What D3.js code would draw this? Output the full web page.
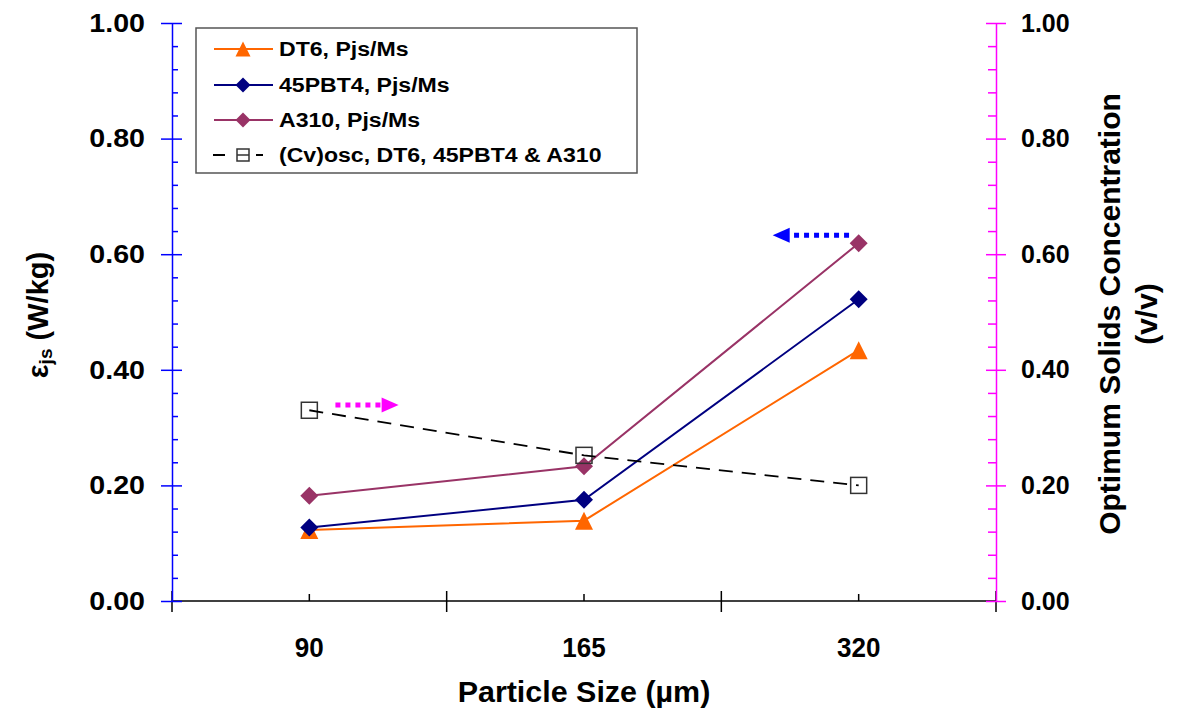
<!DOCTYPE html>
<html>
<head>
<meta charset="utf-8">
<script src="https://cdn.jsdelivr.net/npm/d3@7"></script>
<style>
  body { margin: 0; background: #fff; }
  svg { display: block; font-family: "Liberation Sans", Arial, sans-serif; }
</style>
</head>
<body>
<div id="main"></div>
<script>
// Chart values
const categories = ["90", "165", "320"];
const dt6 = [0.123, 0.139, 0.434];
const pbt4 = [0.127, 0.175, 0.522];
const a310 = [0.182, 0.233, 0.619];
const cvOsc = [0.330, 0.252, 0.200];
const yTicks = [0, 0.2, 0.4, 0.6, 0.8, 1.0];
const legendLabels = ["DT6, Pjs/Ms", "45PBT4, Pjs/Ms", "A310, Pjs/Ms", "(Cv)osc, DT6, 45PBT4 & A310"];
// arrows: which axis they refer to, at which value, start/end as offsets from a category (in band steps)
const arrows = [
  { cat: "90", value: 0.339, from: 0.095, to: 0.325, color: "#ff00ff" },
  { cat: "320", value: 0.633, from: -0.035, to: -0.313, color: "#0000ff" }
];

const svgWidth = 1184, svgHeight = 720;
const plotLeft = 172, plotRight = 996, plotTop = 23, plotBottom = 601;

const svg = d3.select("#main").append("svg")
  .attr("width", svgWidth)
  .attr("height", svgHeight);

const x = d3.scaleBand().domain(categories).range([plotLeft, plotRight]).padding(0);
const yL = d3.scaleLinear().domain([0, 1]).range([plotBottom, plotTop]);
const yR = d3.scaleLinear().domain([0, 1]).range([plotBottom, plotTop]);

const fmt = d3.format(".2f");
const minorTicks = d3.range(0, 1.0001, 0.04).filter(v => Math.abs(v / 0.2 - Math.round(v / 0.2)) > 1e-6);

// stretch text horizontally (the original picture is a bit wider than tall)
const widen = function (sel, k) {
  sel.each(function () {
    const t = d3.select(this);
    const xx = +t.attr("x") || 0;
    t.attr("x", xx / k).attr("transform", "scale(" + k + ",1)");
  });
};

// X axis
const gx = svg.append("g").attr("transform", "translate(0," + plotBottom + ")");
gx.call(d3.axisBottom(x).tickSizeInner(-7).tickSizeOuter(0).tickPadding(36))
  .call(g => g.select(".domain").remove());
gx.selectAll(".tick line").attr("stroke", "#000").attr("stroke-width", 1.5);
gx.selectAll(".tick text")
  .attr("font-size", 28).attr("font-weight", "bold").attr("fill", "#000")
  .attr("font-family", "\"Liberation Sans\", Arial, sans-serif");
widen(gx.selectAll(".tick text"), 0.93);
gx.append("line").attr("x1", plotLeft).attr("x2", plotRight).attr("stroke", "#000").attr("stroke-width", 1.5);
const bounds = categories.map(c => x(c)).concat([x(categories[categories.length - 1]) + x.bandwidth()]);
gx.selectAll(".major").data(bounds).enter().append("line")
  .attr("class", "major")
  .attr("x1", d => d).attr("x2", d => d)
  .attr("y1", -10).attr("y2", 11)
  .attr("stroke", "#000").attr("stroke-width", 1.5);

const xTitle = svg.append("text")
  .attr("x", (plotLeft + plotRight) / 2).attr("y", 692)
  .attr("text-anchor", "middle").attr("dominant-baseline", "central")
  .attr("font-size", 29).attr("font-weight", "bold")
  .text("Particle Size (µm)");
widen(xTitle, 1.05);

// Left axis (blue)
const gl = svg.append("g").attr("transform", "translate(" + plotLeft + ",0)");
gl.call(d3.axisLeft(yL).tickValues(yTicks).tickFormat(fmt).tickSizeInner(11).tickSizeOuter(0).tickPadding(16));
gl.select(".domain").attr("stroke", "#0000ff").attr("stroke-width", 1.5);
gl.selectAll(".tick line").attr("stroke", "#0000ff").attr("stroke-width", 1.5).attr("x2", 10).attr("x1", -11);
gl.selectAll(".tick text")
  .attr("font-size", 26).attr("font-weight", "bold").attr("fill", "#000")
  .attr("font-family", "\"Liberation Sans\", Arial, sans-serif");
widen(gl.selectAll(".tick text"), 1.1);
const glm = svg.append("g").attr("transform", "translate(" + plotLeft + ",0)");
glm.call(d3.axisRight(yL).tickValues(minorTicks).tickFormat("").tickSize(6))
  .call(g => g.select(".domain").remove());
glm.selectAll(".tick line").attr("stroke", "#0000ff").attr("stroke-width", 1.5);

// Right axis (magenta)
const gr = svg.append("g").attr("transform", "translate(" + plotRight + ",0)");
gr.call(d3.axisRight(yR).tickValues(yTicks).tickFormat(fmt).tickSizeInner(10).tickSizeOuter(0).tickPadding(15));
gr.select(".domain").attr("stroke", "#ff00ff").attr("stroke-width", 1.5);
gr.selectAll(".tick line").attr("stroke", "#ff00ff").attr("stroke-width", 1.5).attr("x1", -10);
gr.selectAll(".tick text")
  .attr("font-size", 25).attr("font-weight", "bold").attr("fill", "#000")
  .attr("font-family", "\"Liberation Sans\", Arial, sans-serif");
const grm = svg.append("g").attr("transform", "translate(" + plotRight + ",0)");
grm.call(d3.axisLeft(yR).tickValues(minorTicks).tickFormat("").tickSize(8))
  .call(g => g.select(".domain").remove());
grm.selectAll(".tick line").attr("stroke", "#ff00ff").attr("stroke-width", 1.5);

// Axis titles
const lt = svg.append("text")
  .attr("transform", "translate(38,315) rotate(-90)")
  .attr("text-anchor", "middle").attr("dominant-baseline", "central")
  .attr("font-size", 29).attr("font-weight", "bold");
lt.append("tspan").text("ε");
lt.append("tspan").attr("font-size", 19).attr("dy", 7).text("js");
lt.append("tspan").attr("dy", -7).text(" (W/kg)");

svg.append("text")
  .attr("transform", "translate(1109,314) rotate(-90)")
  .attr("text-anchor", "middle").attr("dominant-baseline", "central")
  .attr("font-size", 30).attr("font-weight", "bold")
  .text("Optimum Solids Concentration");
svg.append("text")
  .attr("transform", "translate(1146,314) rotate(-90)")
  .attr("text-anchor", "middle").attr("dominant-baseline", "central")
  .attr("font-size", 30).attr("font-weight", "bold")
  .text("(v/v)");

// marker shapes
const triangle = s => "M0," + (-s / 2) + "L" + (s / 2) + "," + (s / 2) + "L" + (-s / 2) + "," + (s / 2) + "Z";
const diamond = s => "M0," + (-s / 2) + "L" + (s / 2) + ",0L0," + (s / 2) + "L" + (-s / 2) + ",0Z";

const cx = d => x(d.cat) + x.bandwidth() / 2;

const series = [
  { name: legendLabels[0], values: dt6, color: "#ff6600", shape: triangle, scale: yL },
  { name: legendLabels[1], values: pbt4, color: "#000080", shape: diamond, scale: yL },
  { name: legendLabels[2], values: a310, color: "#993366", shape: diamond, scale: yL }
];

series.forEach(function (s) {
  const pts = s.values.map((v, i) => ({ cat: categories[i], v: v }));
  const line = d3.line().x(cx).y(d => s.scale(d.v));
  svg.append("path").datum(pts)
    .attr("d", line)
    .attr("fill", "none").attr("stroke", s.color).attr("stroke-width", 2);
  svg.selectAll(null).data(pts).enter().append("path")
    .attr("d", s.shape(18))
    .attr("transform", d => "translate(" + cx(d) + "," + s.scale(d.v) + ")")
    .attr("fill", s.color);
});

// Cv osc (right axis)
const cvPts = cvOsc.map((v, i) => ({ cat: categories[i], v: v }));
svg.selectAll(null).data(cvPts).enter().append("rect")
  .attr("x", d => cx(d) - 8).attr("y", d => yR(d.v) - 8)
  .attr("width", 16).attr("height", 16)
  .attr("fill", "none").attr("stroke", "#333").attr("stroke-width", 1.5);
svg.append("path").datum(cvPts)
  .attr("d", d3.line().x(cx).y(d => yR(d.v)))
  .attr("fill", "none").attr("stroke", "#000").attr("stroke-width", 1.8)
  .attr("stroke-dasharray", "14,9");

// dotted arrows
arrows.forEach(function (a) {
  const step = x.step();
  const c = x(a.cat) + x.bandwidth() / 2;
  const x0 = c + a.from * step;
  const x1 = c + a.to * step;
  const yy = (a.cat === "90" ? yR : yL)(a.value);
  const dir = Math.sign(x1 - x0);
  const head = 17;
  svg.append("line")
    .attr("x1", x0).attr("x2", x1 - dir * head).attr("y1", yy).attr("y2", yy)
    .attr("stroke", a.color).attr("stroke-width", 5).attr("stroke-dasharray", "5,5");
  svg.append("path")
    .attr("d", "M" + x1 + "," + yy + "L" + (x1 - dir * head) + "," + (yy - 7.5) + "L" + (x1 - dir * head) + "," + (yy + 7.5) + "Z")
    .attr("fill", a.color);
});

// Legend
const lg = svg.append("g").attr("transform", "translate(196,28)");
lg.append("rect").attr("width", 441).attr("height", 145)
  .attr("fill", "#fff").attr("stroke", "#555").attr("stroke-width", 1.5);
const rowY = [21, 57, 92, 127];
series.forEach(function (s, i) {
  const r = lg.append("g").attr("transform", "translate(0," + rowY[i] + ")");
  r.append("line").attr("x1", 18).attr("x2", 77).attr("stroke", s.color).attr("stroke-width", 2);
  r.append("path").attr("d", s.shape(15)).attr("transform", "translate(47,0)").attr("fill", s.color);
});
const r4 = lg.append("g").attr("transform", "translate(0," + rowY[3] + ")");
r4.append("line").attr("x1", 17).attr("x2", 29).attr("stroke", "#000").attr("stroke-width", 2);
r4.append("line").attr("x1", 60).attr("x2", 67).attr("stroke", "#000").attr("stroke-width", 2);
r4.append("rect").attr("x", 41).attr("y", -6).attr("width", 12).attr("height", 12)
  .attr("fill", "none").attr("stroke", "#333").attr("stroke-width", 1.5);
r4.append("line").attr("x1", 41).attr("x2", 53).attr("stroke", "#333").attr("stroke-width", 1.5);
const ltxt = lg.selectAll(".ltxt").data(legendLabels).enter().append("text")
  .attr("class", "ltxt")
  .attr("x", 83).attr("y", (d, i) => rowY[i])
  .attr("dominant-baseline", "central")
  .attr("font-size", 21).attr("font-weight", "bold")
  .text(d => d);
widen(ltxt, 1.1);
</script>
</body>
</html>
